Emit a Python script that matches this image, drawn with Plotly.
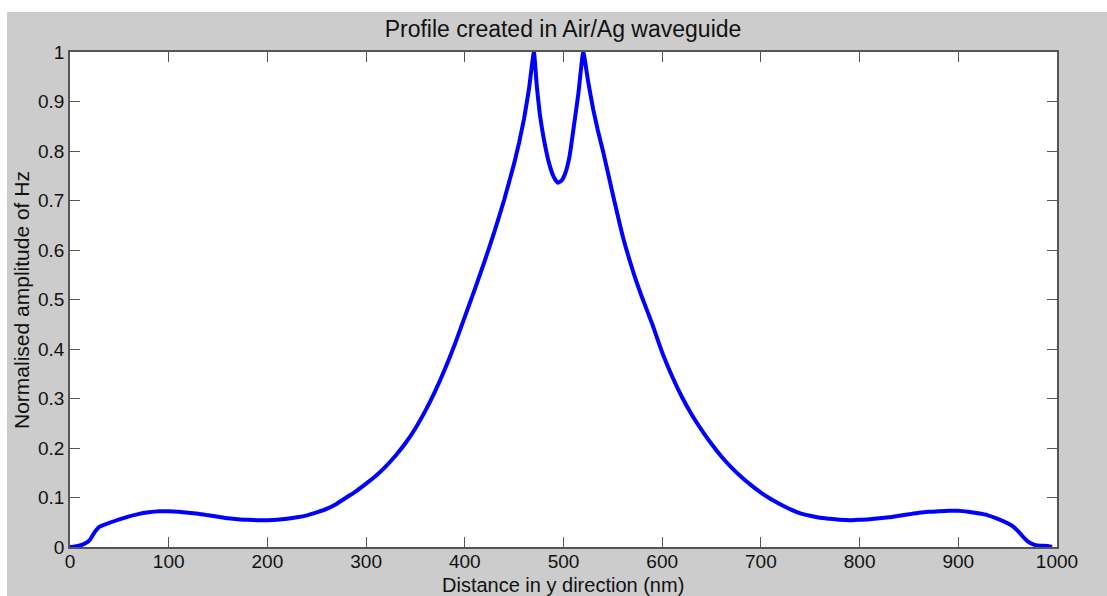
import plotly.graph_objects as go

distance_nm = [0, 5, 10, 15, 20, 25, 30, 40, 50, 60, 70, 80, 90, 100, 110, 120, 130, 140, 150,
               160, 170, 180, 190, 200, 210, 220, 230, 240, 250, 260, 270, 280, 290, 300, 310,
               320, 330, 340, 350, 360, 370, 380, 390, 400, 410, 420, 430, 440, 450, 455, 460,
               465, 470, 473, 476, 480, 485, 490, 494, 498, 502, 506, 510, 515, 520, 525, 530,
               535, 540, 550, 560, 570, 580, 590, 600, 610, 620, 630, 640, 650, 660, 670, 680,
               690, 700, 710, 720, 730, 740, 750, 760, 770, 780, 790, 800, 810, 820, 830, 840,
               850, 860, 870, 880, 890, 900, 910, 920, 930, 940, 950, 955, 960, 965, 970, 975,
               980, 990, 995]
amplitude_hz = [0.0, 0.001, 0.003, 0.007, 0.014, 0.030, 0.041, 0.049, 0.056, 0.062, 0.067, 0.070,
                0.072, 0.072, 0.071, 0.069, 0.067, 0.064, 0.061, 0.058, 0.056, 0.055, 0.054, 0.054,
                0.055, 0.057, 0.060, 0.064, 0.070, 0.077, 0.087, 0.100, 0.113, 0.128, 0.144, 0.163,
                0.185, 0.210, 0.240, 0.275, 0.315, 0.360, 0.410, 0.465, 0.520, 0.577, 0.637, 0.702,
                0.775, 0.817, 0.865, 0.925, 1.0, 0.93, 0.875, 0.825, 0.778, 0.748, 0.736, 0.740,
                0.756, 0.788, 0.843, 0.915, 1.0, 0.94, 0.885, 0.840, 0.800, 0.712, 0.628, 0.560,
                0.502, 0.450, 0.393, 0.345, 0.303, 0.267, 0.236, 0.208, 0.183, 0.161, 0.142, 0.125,
                0.110, 0.097, 0.086, 0.076, 0.068, 0.063, 0.059, 0.057, 0.055, 0.054, 0.055, 0.056,
                0.058, 0.060, 0.063, 0.066, 0.069, 0.071, 0.072, 0.073, 0.073, 0.071, 0.068, 0.064,
                0.057, 0.048, 0.042, 0.033, 0.022, 0.012, 0.006, 0.003, 0.002, 0.0]

title_text = "Profile created in Air/Ag waveguide"
x_title = "Distance in y direction (nm)"
y_title = "Normalised amplitude of Hz"

W, H = 1107, 596
L, R, T, B = 70, 50, 52, 49
pw, ph = W - L - R, H - T - B

def px_x(p):
    return (p - L) / pw

def px_y(p):
    return (H - B - p) / ph

font_family = "Liberation Sans, Arial, sans-serif"
axis_color = "#555555"
text_color = "#111111"

fig = go.Figure()
fig.add_trace(go.Scatter(x=distance_nm, y=amplitude_hz, mode="lines",
                         line=dict(color="#0000ff", width=4, shape="spline", smoothing=0.4),
                         showlegend=False))

axis_common = dict(showgrid=False, zeroline=False, showline=True, linecolor=axis_color,
                   linewidth=1.5, mirror="ticks", ticks="inside", ticklen=10,
                   tickcolor=axis_color, tickwidth=1,
                   tickfont=dict(family=font_family, size=19, color=text_color))

fig.update_layout(
    width=W, height=H,
    margin=dict(l=L, r=R, t=T, b=B),
    paper_bgcolor="#cccccc", plot_bgcolor="#ffffff",
    title=dict(text=title_text, x=563 / W, xanchor="center",
               y=1 - 29 / H, yanchor="middle", yref="container",
               font=dict(family=font_family, size=23, color=text_color)),
    xaxis=dict(range=[0, 1000], dtick=100, tick0=0, ticklabelstandoff=-4, **axis_common),
    yaxis=dict(range=[0, 1], dtick=0.1, tick0=0, **axis_common),
    shapes=[
        dict(type="rect", xref="paper", yref="paper", x0=px_x(-5), x1=px_x(W + 5),
             y0=px_y(12), y1=px_y(-5), fillcolor="#ffffff", line=dict(width=0), layer="below"),
        dict(type="rect", xref="paper", yref="paper", x0=px_x(-5), x1=px_x(7),
             y0=px_y(H + 5), y1=px_y(-5), fillcolor="#ffffff", line=dict(width=0), layer="below"),
    ],
    annotations=[
        dict(text=x_title, xref="paper", yref="paper", x=px_x(563), y=px_y(585),
             xanchor="center", yanchor="middle", showarrow=False,
             font=dict(family=font_family, size=20, color=text_color)),
        dict(text=y_title, xref="paper", yref="paper", x=px_x(21), y=px_y(300),
             xanchor="center", yanchor="middle", textangle=-90, showarrow=False,
             font=dict(family=font_family, size=21, color=text_color)),
    ],
)

fig.write_html("out.html")
